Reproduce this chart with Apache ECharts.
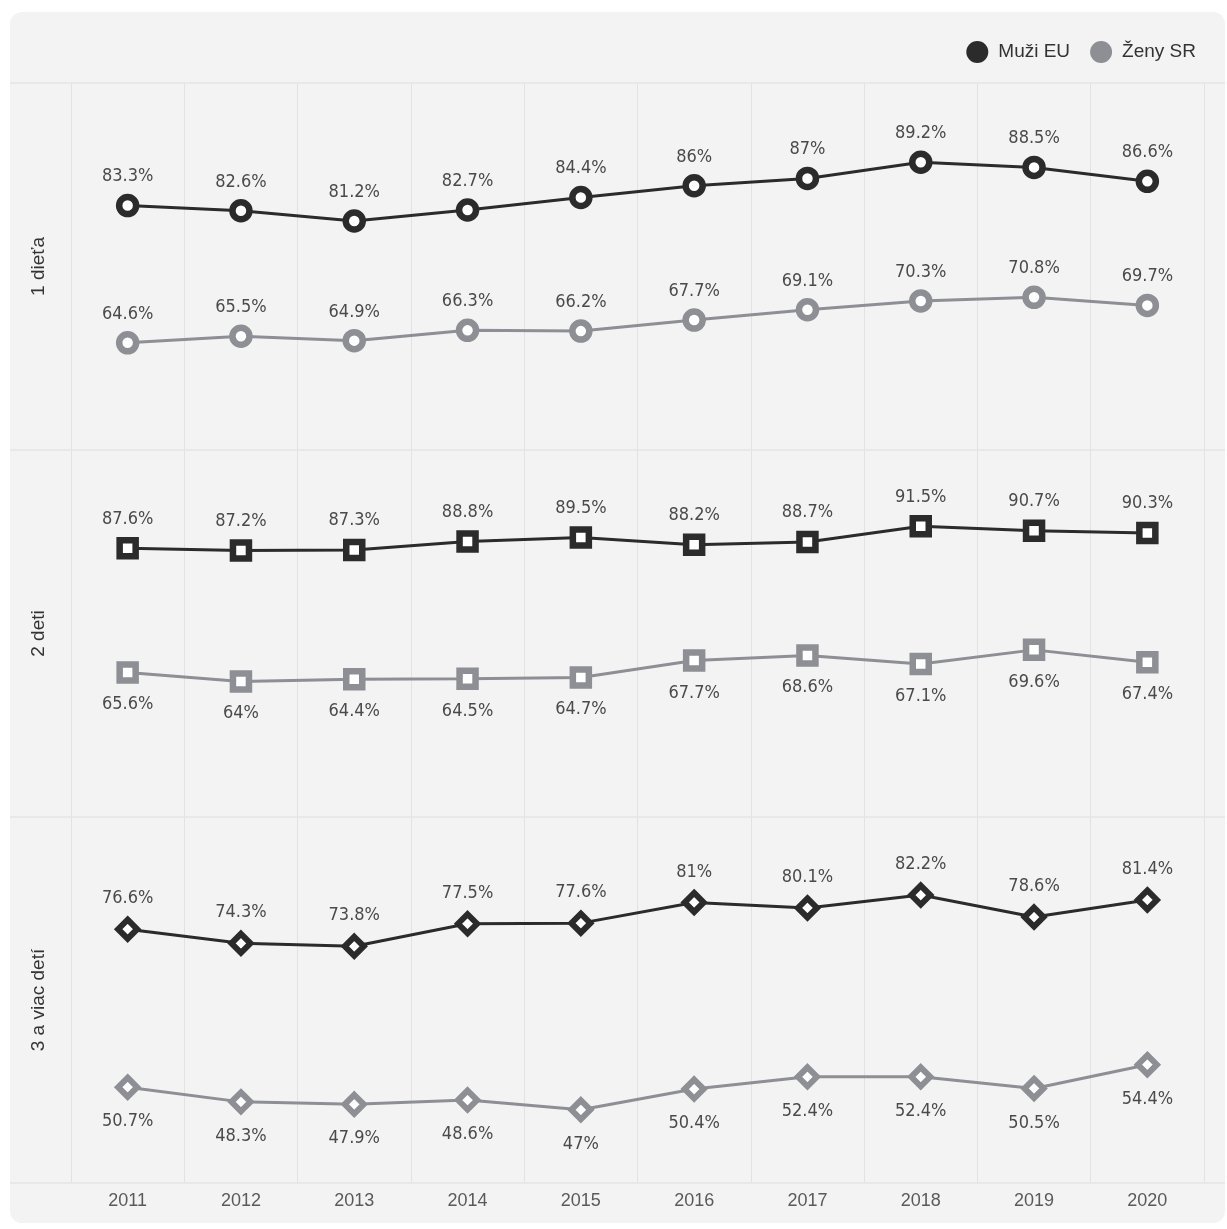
<!DOCTYPE html>
<html>
<head>
<meta charset="utf-8">
<script src="https://cdn.jsdelivr.net/npm/echarts@6/dist/echarts.min.js"></script>
<style>
html,body{margin:0;padding:0;background:#fff;}
#bg{position:absolute;left:10px;top:12px;width:1215px;height:1211px;border-radius:12px;background:#f3f3f3;}
#chart{position:absolute;left:0;top:0;width:1227px;height:1229px;}
</style>
</head>
<body>
<div id="bg"></div>
<div id="chart"></div>
<script>
const years = ['2011','2012','2013','2014','2015','2016','2017','2018','2019','2020'];
const panelNames = ['1 dieťa','2 deti','3 a viac detí'];
const seriesNames = ['Muži EU','Ženy SR'];
const men1 = [83.3, 82.6, 81.2, 82.7, 84.4, 86, 87, 89.2, 88.5, 86.6];
const women1 = [64.6, 65.5, 64.9, 66.3, 66.2, 67.7, 69.1, 70.3, 70.8, 69.7];
const men2 = [87.6, 87.2, 87.3, 88.8, 89.5, 88.2, 88.7, 91.5, 90.7, 90.3];
const women2 = [65.6, 64, 64.4, 64.5, 64.7, 67.7, 68.6, 67.1, 69.6, 67.4];
const men3 = [76.6, 74.3, 73.8, 77.5, 77.6, 81, 80.1, 82.2, 78.6, 81.4];
const women3 = [50.7, 48.3, 47.9, 48.6, 47, 50.4, 52.4, 52.4, 50.5, 54.4];
const yMin = [50, 40, 35];
const yMax = [100, 105, 95];

const DARK = '#2b2b2b', GRAY = '#8d8f94';
const NARROW = '"Liberation Sans Narrow","DejaVu Sans Condensed","Liberation Sans",sans-serif';
const SANS = '"Liberation Sans",Arial,sans-serif';

const tops = [83, 450, 817];
const heights = [367, 367, 366];
const grids = tops.map((t, i) => ({left: 71, right: 23, top: t, height: heights[i]}));

const xAxes = grids.map((g, i) => ({
  type: 'category', gridIndex: i, data: years, boundaryGap: true,
  axisLine: {show: false}, axisTick: {show: false},
  axisLabel: {show: i === 2, color: '#5a5a5a', fontSize: 18, fontFamily: SANS, margin: 9},
  splitLine: {show: true, lineStyle: {color: '#e2e2e2', width: 1}}
}));
const yAxes = grids.map((g, i) => ({
  type: 'value', gridIndex: i, min: yMin[i], max: yMax[i],
  name: panelNames[i], nameLocation: 'middle', nameGap: 23,
  nameTextStyle: {color: '#333', fontSize: 19, fontFamily: SANS},
  axisLine: {show: false}, axisTick: {show: false}, axisLabel: {show: false},
  splitLine: {show: false}
}));

const symbols = ['circle', 'rect', 'diamond'];
const symSizes = [17, 16, 19];
const borderW = [6.5, 6.5, 6];
const menData = [men1, men2, men3];
const womenData = [women1, women2, women3];
const womenPos = ['top', 'bottom', 'bottom'];
const menDist = [8, 9, 9];
const womenDist = [8, 12, 13];

function mk(name, data, i, color, pos, dist) {
  return {
    name: name, type: 'line', xAxisIndex: i, yAxisIndex: i, data: data,
    symbol: symbols[i], symbolSize: symSizes[i],
    lineStyle: {color: color, width: 3},
    itemStyle: {color: '#ffffff', borderColor: color, borderWidth: borderW[i]},
    label: {show: true, position: pos, distance: dist, formatter: p => p.value + '%',
      color: '#4a4a4a', fontSize: 18, fontFamily: NARROW},
    emphasis: {disabled: true}, z: color === DARK ? 4 : 3
  };
}
const series = [];
for (let i = 0; i < 3; i++) {
  series.push(mk(seriesNames[0], menData[i], i, DARK, 'top', menDist[i]));
  series.push(mk(seriesNames[1], womenData[i], i, GRAY, womenPos[i], womenDist[i]));
}

const sepY = [83, 450, 817, 1183];
const graphic = sepY.map(y => ({
  type: 'line', shape: {x1: 10, y1: y, x2: 1225, y2: y},
  style: {stroke: '#e4e4e4', lineWidth: 1.5}, silent: true, z: 1
}));

const chart = echarts.init(document.getElementById('chart'), null, {renderer: 'canvas'});
chart.setOption({
  backgroundColor: 'transparent',
  animation: false,
  legend: {
    right: 26, top: 36, icon: 'circle', itemWidth: 22, itemHeight: 22, itemGap: 20,
    textStyle: {color: '#333', fontSize: 19, fontFamily: SANS, padding: [0, 0, 0, 5]},
    data: [
      {name: seriesNames[0], itemStyle: {color: DARK, borderWidth: 0}},
      {name: seriesNames[1], itemStyle: {color: GRAY, borderWidth: 0}}
    ],
    selectedMode: false
  },
  grid: grids, xAxis: xAxes, yAxis: yAxes, series: series, graphic: graphic
});
</script>
</body>
</html>
